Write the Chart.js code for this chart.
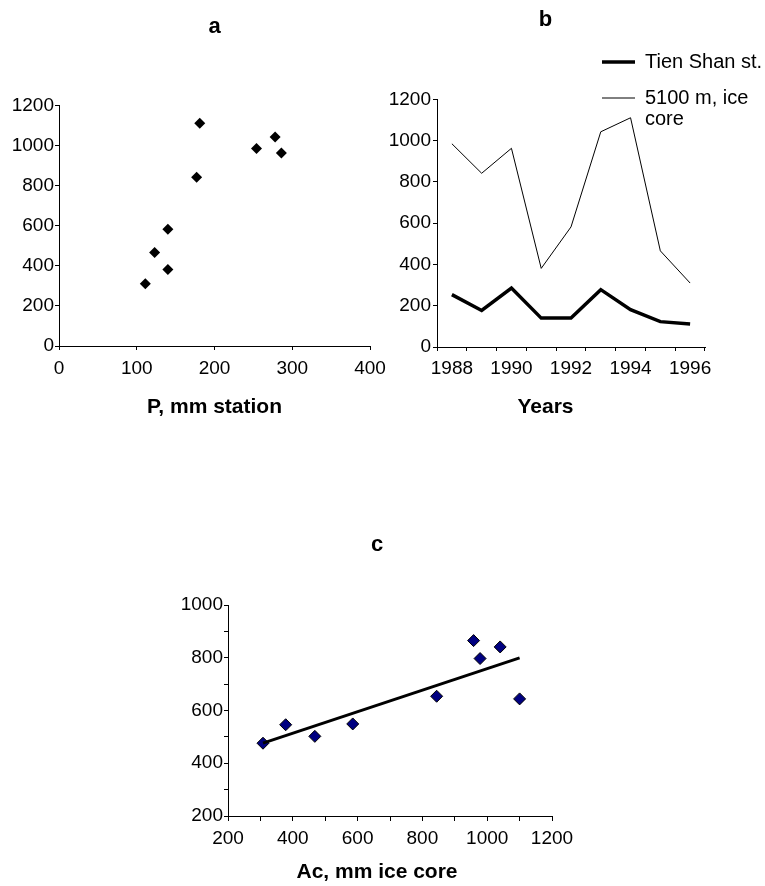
<!DOCTYPE html>
<html>
<head>
<meta charset="utf-8">
<script src="https://cdn.jsdelivr.net/npm/chart.js@4.4.1/dist/chart.umd.min.js"></script>
<style>
  body { margin: 0; background: #fff; }
  #page { position: relative; width: 765px; height: 886px; }
  canvas { position: absolute; }
</style>
</head>
<body>
<div id="page">
  <canvas id="chartA" width="395" height="430" style="left:0;top:0"></canvas>
  <canvas id="chartB" width="380" height="430" style="left:385px;top:0"></canvas>
  <canvas id="chartC" width="432" height="386" style="left:150px;top:500px"></canvas>
</div>
<script>
// yearly values, panels a and b
const years = ["1988", "1989", "1990", "1991", "1992", "1993", "1994", "1995", "1996"];
const tienShan = [254, 177, 286, 140, 140, 278, 181, 123, 111];
const iceCore = [985, 842, 963, 381, 582, 1043, 1111, 466, 310];

// panel c
const cIceCore = [308, 378, 468, 585, 844, 958, 978, 1040, 1100];
const cValues = [476, 546, 502, 549, 654, 865, 797, 841, 644];

Chart.defaults.font.family = "'Liberation Sans', Arial, sans-serif";
Chart.defaults.font.size = 19;
Chart.defaults.color = "#000";

const axisGrid = { drawOnChartArea: false, tickLength: 4, color: "#000", lineWidth: 1 };
const axisBorder = { color: "#000", width: 1 };
const boldFont = (size) => ({ size: size, weight: "bold" });
const plain = (v) => String(v);

// legend drawn at a free spot (Excel style, lines may wrap)
const sideLegend = {
  id: "sideLegend",
  afterDraw(chart, args, opts) {
    const ctx = chart.ctx;
    ctx.save();
    ctx.font = opts.fontSize + "px " + Chart.defaults.font.family;
    ctx.fillStyle = "#000";
    ctx.strokeStyle = "#000";
    ctx.textBaseline = "middle";
    chart.data.datasets.forEach((ds, i) => {
      const y = opts.rows[i];
      ctx.lineWidth = ds.borderWidth;
      ctx.beginPath();
      ctx.moveTo(opts.lineX0, y);
      ctx.lineTo(opts.lineX1, y);
      ctx.stroke();
      ds.label.split("\n").forEach((line, k) => {
        ctx.fillText(line, opts.textX, y + k * opts.lineHeight);
      });
    });
    ctx.restore();
  },
};

// a: ice core vs station
new Chart(document.getElementById("chartA"), {
  type: "scatter",
  data: {
    datasets: [
      {
        data: tienShan.map((p, i) => ({ x: p, y: iceCore[i] })),
        pointStyle: "rectRot",
        pointRadius: 5.5,
        backgroundColor: "#000",
        borderColor: "#000",
        borderWidth: 0,
      },
    ],
  },
  options: {
    responsive: false,
    animation: false,
    layout: { padding: { left: 0, right: 25, top: 0, bottom: 0 } },
    plugins: {
      legend: { display: false },
      tooltip: { enabled: false },
      title: { display: true, fullSize: false, text: "a", font: boldFont(22), padding: { top: 14, bottom: 65 } },
      subtitle: {
        display: true,
        fullSize: false,
        position: "bottom",
        text: "P, mm station",
        color: "#000",
        font: boldFont(21),
        padding: { top: 0, bottom: 10 },
      },
    },
    scales: {
      x: {
        type: "linear",
        min: 0,
        max: 400,
        ticks: { stepSize: 100, padding: 7, autoSkip: false, maxRotation: 0, callback: plain },
        grid: axisGrid,
        border: axisBorder,
        afterFit: (s) => { s.height = 48.8; },
      },
      y: {
        min: 0,
        max: 1200,
        ticks: { stepSize: 200, padding: 1, callback: plain },
        grid: axisGrid,
        border: axisBorder,
        afterFit: (s) => { s.width = 59; },
      },
    },
  },
});

// b: time series
new Chart(document.getElementById("chartB"), {
  type: "line",
  data: {
    labels: years,
    datasets: [
      { label: "Tien Shan st.", data: tienShan, borderColor: "#000", borderWidth: 3.5, pointRadius: 0, tension: 0 },
      { label: "5100 m, ice\ncore", data: iceCore, borderColor: "#000", borderWidth: 1, pointRadius: 0, tension: 0 },
    ],
  },
  options: {
    responsive: false,
    animation: false,
    layout: { padding: { left: 1, right: 60, top: 0, bottom: 0 } },
    plugins: {
      legend: { display: false },
      tooltip: { enabled: false },
      title: { display: true, text: "b", font: boldFont(22), padding: { top: 7, bottom: 66 } },
      subtitle: {
        display: true,
        position: "bottom",
        text: "Years",
        color: "#000",
        font: boldFont(21),
        padding: { top: 0, bottom: 10 },
      },
      sideLegend: { fontSize: 20, rows: [62, 98], lineX0: 217, lineX1: 250, textX: 260, lineHeight: 21 },
    },
    scales: {
      x: {
        offset: true,
        grid: Object.assign({}, axisGrid, { offset: true }),
        border: axisBorder,
        ticks: {
          autoSkip: false,
          maxRotation: 0,
          padding: 6,
          callback: function (value, index) {
            return index % 2 ? "" : this.getLabelForValue(value);
          },
        },
        afterFit: (s) => { s.height = 47.8; },
      },
      y: {
        min: 0,
        max: 1200,
        ticks: { stepSize: 200, padding: 2, callback: plain },
        grid: axisGrid,
        border: axisBorder,
        afterFit: (s) => { s.width = 51; },
      },
    },
  },
  plugins: [sideLegend],
});

// c: scatter with linear trend
const n = cIceCore.length;
const mx = cIceCore.reduce((a, b) => a + b, 0) / n;
const my = cValues.reduce((a, b) => a + b, 0) / n;
let sxy = 0, sxx = 0;
cIceCore.forEach((x, i) => {
  sxy += (x - mx) * (cValues[i] - my);
  sxx += (x - mx) * (x - mx);
});
const slope = sxy / sxx;
const icpt = my - slope * mx;
const xLo = Math.min(...cIceCore);
const xHi = Math.max(...cIceCore);

new Chart(document.getElementById("chartC"), {
  type: "scatter",
  data: {
    datasets: [
      {
        type: "line",
        data: [
          { x: xLo, y: icpt + slope * xLo },
          { x: xHi, y: icpt + slope * xHi },
        ],
        borderColor: "#000",
        borderWidth: 3,
        pointRadius: 0,
        order: 0,
      },
      {
        data: cIceCore.map((x, i) => ({ x: x, y: cValues[i] })),
        pointStyle: "rectRot",
        pointRadius: 6,
        backgroundColor: "#000080",
        borderColor: "#000",
        borderWidth: 1,
        order: 1,
      },
    ],
  },
  options: {
    responsive: false,
    animation: false,
    layout: { padding: { left: 22, right: 0, top: 0, bottom: 0 } },
    plugins: {
      legend: { display: false },
      tooltip: { enabled: false },
      title: { display: true, text: "c", font: boldFont(22), padding: { top: 32, bottom: 46.6 } },
      subtitle: {
        display: true,
        position: "bottom",
        text: "Ac, mm ice core",
        color: "#000",
        font: boldFont(21),
        padding: { top: 0, bottom: 1 },
      },
    },
    scales: {
      x: {
        type: "linear",
        min: 200,
        max: 1200,
        ticks: {
          stepSize: 100,
          padding: 6,
          autoSkip: false,
          maxRotation: 0,
          callback: (v) => (v % 200 === 0 ? String(v) : ""),
        },
        grid: Object.assign({}, axisGrid, { tickLength: 5 }),
        border: axisBorder,
        afterFit: (s) => { s.height = 43.8; },
      },
      y: {
        min: 200,
        max: 1000,
        ticks: {
          stepSize: 100,
          padding: 1,
          autoSkip: false,
          callback: (v) => (v % 200 === 0 ? String(v) : ""),
        },
        grid: axisGrid,
        border: axisBorder,
        afterFit: (s) => { s.width = 56; },
      },
      // empty box on the right so the titles sit where Excel put them
      yPad: {
        position: "right",
        display: true,
        grid: { display: false },
        border: { display: false },
        ticks: { display: false },
        afterFit: (s) => { s.width = 30; },
      },
    },
  },
});
</script>
</body>
</html>
